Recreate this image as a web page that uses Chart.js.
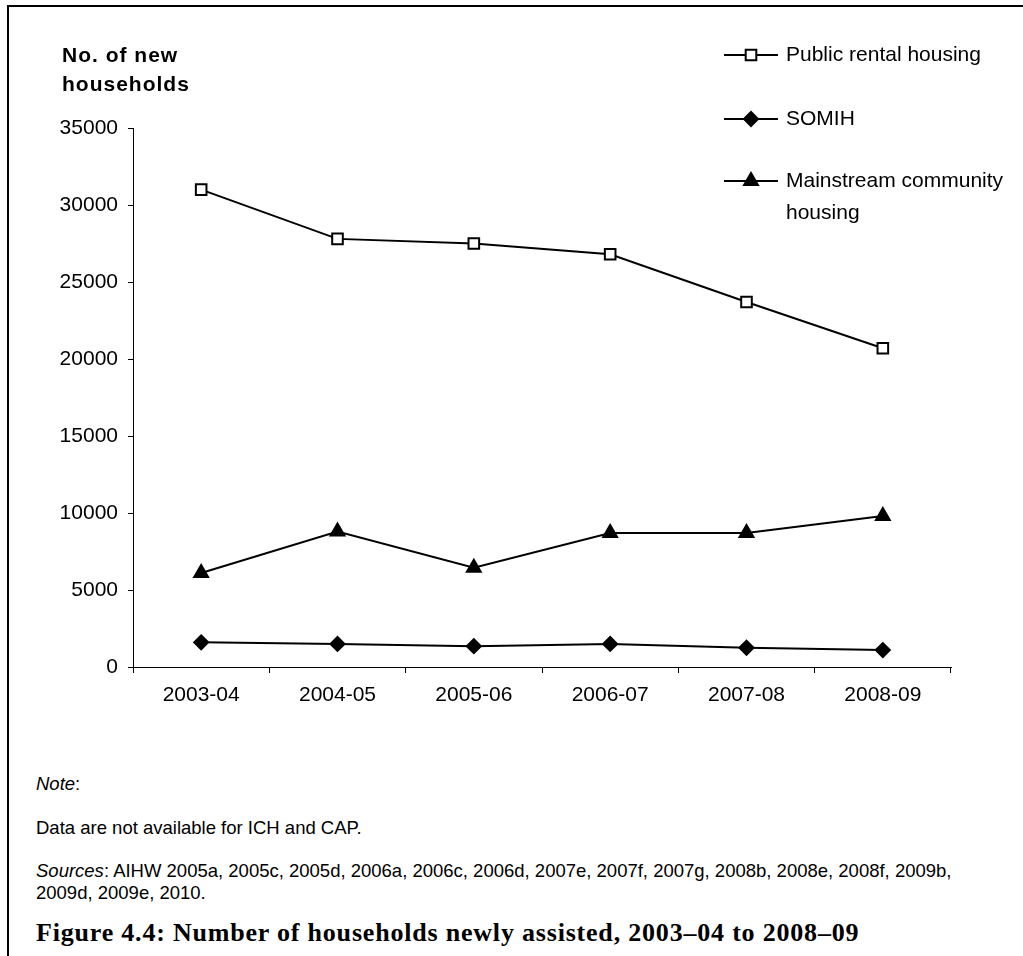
<!DOCTYPE html>
<html lang="en">
<head>
<meta charset="UTF-8">
<title>Number of households newly assisted</title>
<script src="https://cdn.jsdelivr.net/npm/chart.js"></script>
<style>
  body { margin: 0; background: #fff; color: #000; font-family: "Liberation Sans", Arial, sans-serif; }
  #page { position: relative; width: 1023px; height: 956px; overflow: hidden; }
  #frame { position: absolute; left: 7px; top: 5px; right: 0; bottom: 0; border-top: 2px solid #000; border-left: 2px solid #000; }
  #chartBox { position: absolute; left: 0; top: 0; width: 1023px; height: 740px; }
  .note { position: absolute; left: 36px; font-size: 18.5px; line-height: 22px; white-space: nowrap; }
  .caption { position: absolute; left: 36px; top: 918px; font-family: "Liberation Serif", "Times New Roman", serif; font-weight: bold; font-size: 26px; letter-spacing: 0.8px; white-space: nowrap; }
</style>
</head>
<body>
<div id="page">
  <div id="frame"></div>
  <div id="chartBox"><canvas id="householdsChart" width="1023" height="740"></canvas></div>
  <div class="note" style="top:773px"><i>Note</i>:</div>
  <div class="note" style="top:817px">Data are not available for ICH and CAP.</div>
  <div class="note" style="top:860px"><i>Sources</i>: AIHW 2005a, 2005c, 2005d, 2006a, 2006c, 2006d, 2007e, 2007f, 2007g, 2008b, 2008e, 2008f, 2009b,<br>2009d, 2009e, 2010.</div>
  <div class="caption">Figure 4.4: Number of households newly assisted, 2003–04 to 2008–09</div>
</div>

<script>
    const years = ['2003-04', '2004-05', '2005-06', '2006-07', '2007-08', '2008-09'];
    const publicRental = [31000, 27800, 27500, 26800, 23700, 20700];
    const somih = [1600, 1500, 1350, 1500, 1250, 1100];
    const mainstream = [6100, 8800, 6450, 8700, 8700, 9800];
    const yTicks = [0, 5000, 10000, 15000, 20000, 25000, 30000, 35000];
    const seriesNames = ['Public rental housing', 'SOMIH', 'Mainstream community housing'];
    const legendLines = [['Public rental housing'], ['SOMIH'], ['Mainstream community', 'housing']];
    const axisTitle = ['No. of new', 'households'];

    const FONT = '"Liberation Sans", Arial, sans-serif';

    function markerDataset(label, data, style, radius, fill) {
        return {
            label: label,
            data: data,
            borderColor: '#000',
            borderWidth: 2,
            tension: 0,
            fill: false,
            pointStyle: style,
            pointRadius: radius,
            pointHoverRadius: radius,
            pointBorderWidth: 2,
            pointBorderColor: '#000',
            pointBackgroundColor: fill
        };
    }

    // legend on the right and the y title at the top left, drawn by hand
    const sideBits = {
        id: 'sideBits',
        afterDraw(chart) {
            const ctx = chart.ctx;
            const rows = [55, 119, 181];
            ctx.save();
            chart.data.datasets.forEach((ds, i) => {
                const y = rows[i];
                ctx.strokeStyle = '#000';
                ctx.lineWidth = 2;
                ctx.beginPath();
                ctx.moveTo(724, y);
                ctx.lineTo(778, y);
                ctx.stroke();
                ctx.fillStyle = ds.pointBackgroundColor;
                ctx.lineWidth = ds.pointBorderWidth;
                Chart.helpers.drawPoint(ctx, { pointStyle: ds.pointStyle, radius: ds.pointRadius, borderWidth: ds.pointBorderWidth, rotation: 0 }, 751, y);
                ctx.fillStyle = '#000';
                ctx.font = '21px ' + FONT;
                ctx.textBaseline = 'middle';
                ctx.textAlign = 'left';
                legendLines[i].forEach((t, k) => ctx.fillText(t, 786, y + k * 32));
            });
            ctx.font = 'bold 21px ' + FONT;
            ctx.letterSpacing = '1px';
            ctx.textBaseline = 'middle';
            axisTitle.forEach((t, k) => ctx.fillText(t, 62, 56 + k * 29));
            ctx.restore();
        }
    };

    const ctx = document.getElementById('householdsChart').getContext('2d');
    new Chart(ctx, {
        type: 'line',
        data: {
            labels: years,
            datasets: [
                markerDataset(seriesNames[0], publicRental, 'rect', 7.5, '#fff'),
                markerDataset(seriesNames[1], somih, 'rectRot', 7, '#000'),
                markerDataset(seriesNames[2], mainstream, 'triangle', 8, '#000')
            ]
        },
        options: {
            responsive: false,
            animation: false,
            devicePixelRatio: 1,
            layout: { padding: { top: 128, right: 72, bottom: 0, left: 0 } },
            plugins: {
                legend: { display: false },
                tooltip: { enabled: false }
            },
            scales: {
                x: {
                    offset: true,
                    grid: { offset: true, drawOnChartArea: false, tickLength: 6, color: '#000' },
                    border: { color: '#000', width: 1 },
                    ticks: { color: '#000', font: { family: FONT, size: 21 }, padding: 10, maxRotation: 0 },
                    afterFit: s => { s.height = 73; }
                },
                y: {
                    min: 0,
                    max: 35000,
                    afterBuildTicks: s => { s.ticks = yTicks.map(v => ({ value: v })); },
                    grid: { drawOnChartArea: false, tickLength: 5, color: '#000' },
                    border: { color: '#000', width: 1 },
                    ticks: { color: '#000', font: { family: FONT, size: 21 }, padding: 10, callback: v => String(v) },
                    afterFit: s => { s.width = 133; }
                }
            }
        },
        plugins: [sideBits]
    });
</script>
</body>
</html>
